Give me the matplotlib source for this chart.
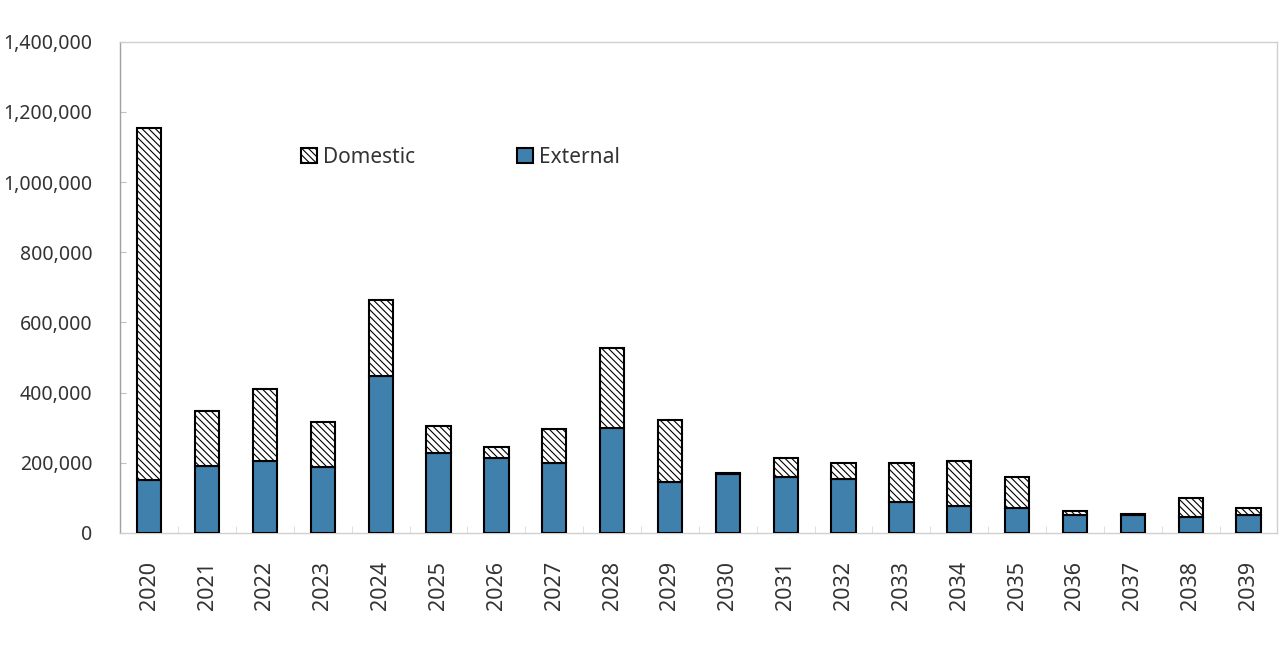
import matplotlib.pyplot as plt
import numpy as np
from matplotlib.ticker import FuncFormatter

years = [str(y) for y in range(2020, 2040)]
external = [151000, 191000, 205000, 188000, 448000, 228000, 214000, 200000, 299000, 145000,
            168000, 160000, 154000, 88000, 77000, 70000, 51000, 50000, 46000, 52000]
total = [1155000, 348000, 410000, 316000, 664000, 305000, 245000, 297000, 527000, 322000,
         170000, 214000, 200000, 200000, 205000, 160000, 63000, 54000, 100000, 71000]
domestic = [t - e for t, e in zip(total, external)]

plt.rcParams['font.family'] = ['Noto Sans', 'DejaVu Sans']
plt.rcParams['hatch.color'] = '#5a5a5a'
plt.rcParams['hatch.linewidth'] = 0.8

fig = plt.figure(figsize=(12.8, 6.62), dpi=100)
ax = fig.add_axes([0.094, 0.195, 0.904, 0.742])

x = np.arange(len(years))
w = 0.42
ax.bar(x, external, w, color='#3f80ad', edgecolor='black', linewidth=1.5, label='External', zorder=3)
ax.bar(x, domestic, w, bottom=external, color='white', edgecolor='black', linewidth=1.5,
       hatch='\\\\\\\\\\', label='Domestic', zorder=3)

ax.set_xlim(-0.5, len(years) - 0.5)
ax.set_ylim(0, 1400000)
ax.set_yticks(np.arange(0, 1400001, 200000))
ax.yaxis.set_major_formatter(FuncFormatter(lambda v, p: f'{int(v):,}'))
ax.set_xticks(x)
ax.set_xticklabels(years, rotation=90)
ax.set_xticks(np.arange(-0.5, len(years), 1), minor=True)
ax.tick_params(axis='x', which='major', length=0, labelsize=15.5, colors='#333333', pad=20)
ax.tick_params(axis='x', which='minor', length=5, color='#d9d9d9', direction='in')
ax.tick_params(axis='y', length=4, direction='in', color='#bfbfbf', labelsize=14,
               colors='#333333', pad=20)
for s in ax.spines.values():
    s.set_color('#d0d0d0')
    s.set_linewidth(1)
ax.spines['left'].set_color('#a0a0a0')

h, l = ax.get_legend_handles_labels()
ax.legend(h[::-1], l[::-1], ncol=2, frameon=False, loc='center left',
          bbox_to_anchor=(0.14, 0.765), fontsize=15, handlelength=0.75, handleheight=0.75,
          handletextpad=0.3, columnspacing=4.9, labelcolor='#333333')

fig.savefig('out.png', dpi=100)
